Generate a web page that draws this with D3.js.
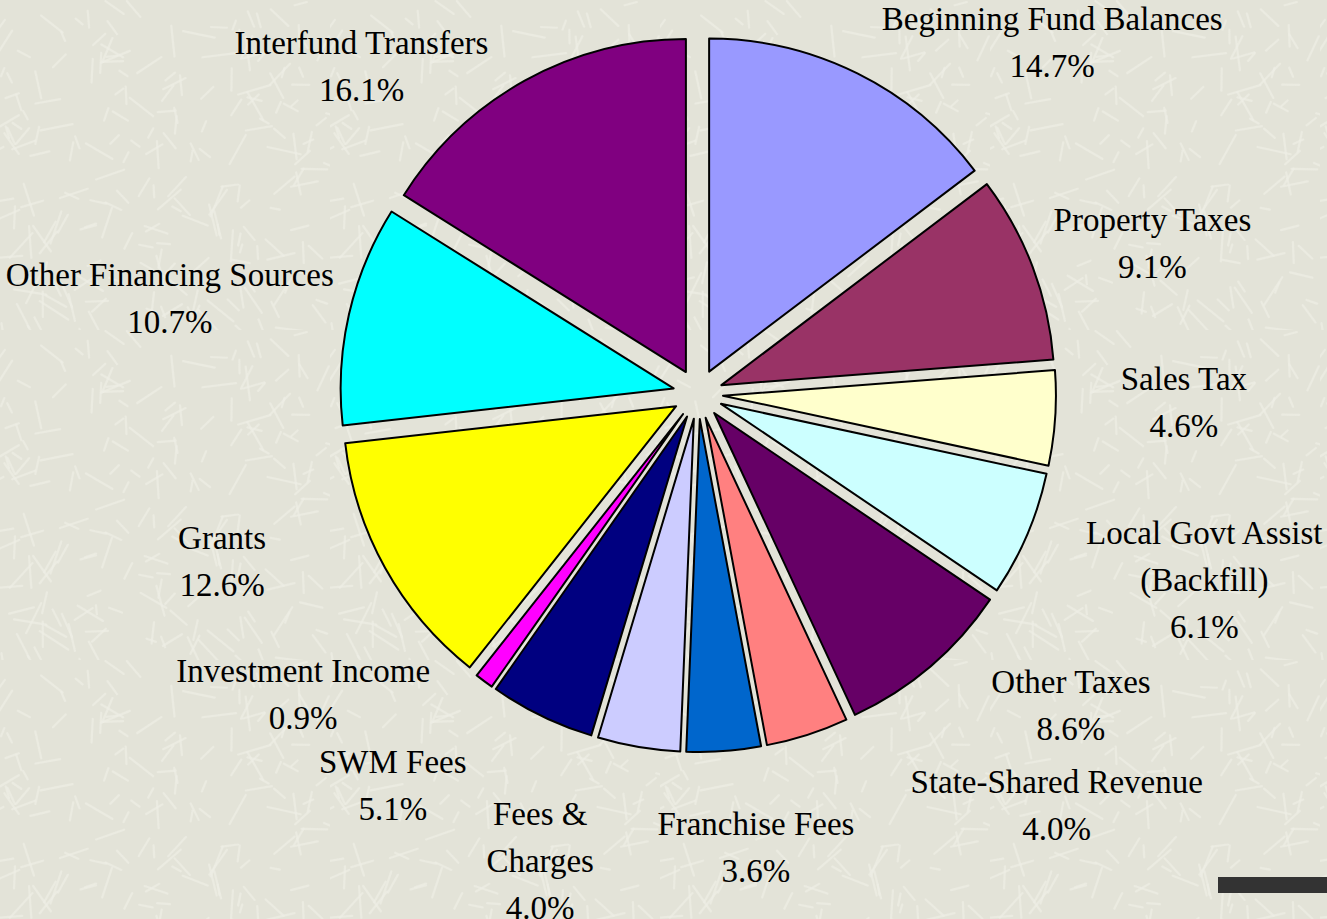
<!DOCTYPE html>
<meta charset="utf-8">
<head>
<title>Revenue Sources</title>
<style>
  body { margin: 0; background: #e4e4d9; overflow: hidden; }
  text { font-family: "Liberation Serif", "Times New Roman", serif; }
</style>
</head>
<script src="https://d3js.org/d3.v7.min.js"></script>
<div id="chart"></div>
<script>
// categories, clockwise from 12 o'clock
var categories = [
  "Beginning Fund Balances", "Property Taxes", "Sales Tax",
  "Local Govt Assist\n(Backfill)", "Other Taxes", "State-Shared Revenue",
  "Franchise Fees", "Fees &\nCharges", "SWM Fees", "Investment Income",
  "Grants", "Other Financing Sources", "Interfund Transfers"
];
var shares = [14.7, 9.1, 4.6, 6.1, 8.6, 4.0, 3.6, 4.0, 5.1, 0.9, 12.6, 10.7, 16.1];
var colors = [
  "#9999ff", "#993366", "#ffffcc", "#ccffff", "#660066", "#ff8080",
  "#0066cc", "#ccccff", "#000080", "#ff00ff", "#ffff00", "#00ffff", "#800080"
];

var W = 1327, H = 919;
var cx = 698, cy = 394, radius = 333, explode = 25;
var labelR = 470, lineH = 47;
// nudges of each label block from its polar anchor
var labelNudge = [
  [145, 69], [15, 16], [17, -23], [74, 2], [68, -46], [215, -36], [24, -15],
  [-80, 3], [-100, -31], [-114, -76], [-65, -61], [-70, 9], [-109, 84]
];

var svg = d3.select("#chart").append("svg")
  .attr("width", W).attr("height", H);

// textured backdrop (light straw streaks)
var defs = svg.append("defs");
var T = 330;
var pat = defs.append("pattern").attr("id", "tex")
  .attr("width", T).attr("height", T).attr("patternUnits", "userSpaceOnUse");
pat.append("rect").attr("width", T).attr("height", T).attr("fill", "#e3e3d8");
function h(n) { var s = Math.sin(n * 127.1 + 311.7) * 43758.5453; return s - Math.floor(s); }
for (var k = 0; k < 220; k++) {
  var x0 = h(k) * T, y0 = h(k + 1000) * T, a = h(k + 2000) * Math.PI, len = 8 + h(k + 3000) * 26;
  pat.append("line")
    .attr("x1", x0).attr("y1", y0)
    .attr("x2", x0 + Math.cos(a) * len).attr("y2", y0 + Math.sin(a) * len)
    .attr("stroke", "#eeeee5").attr("stroke-width", 2.2).attr("stroke-linecap", "round")
    .attr("opacity", 0.7);
}
svg.append("rect").attr("width", W).attr("height", H).attr("fill", "url(#tex)");

var pie = d3.pie().sort(null).value(function(d) { return d; });
var arcs = pie(shares);
var arc = d3.arc().innerRadius(0).outerRadius(radius);

var g = svg.append("g").attr("transform", "translate(" + cx + "," + cy + ")");

g.selectAll("path.slice")
  .data(arcs)
  .enter()
  .append("path")
    .attr("class", "slice")
    .attr("d", arc)
    .attr("fill", function(d, i) { return colors[i]; })
    .attr("stroke", "#000")
    .attr("stroke-width", 2)
    .attr("stroke-linejoin", "round")
    .attr("transform", function(d) {
      var m = (d.startAngle + d.endAngle) / 2;
      return "translate(" + (Math.sin(m) * explode) + "," + (-Math.cos(m) * explode) + ")";
    });

// labels
var labelArc = d3.arc().innerRadius(labelR).outerRadius(labelR);
g.selectAll("text.lbl")
  .data(arcs)
  .enter()
  .append("text")
    .attr("class", "lbl")
    .attr("text-anchor", "middle")
    .style("font-size", "33px")
    .style("fill", "#000")
    .each(function(d, i) {
      var c = labelArc.centroid(d);
      var px = c[0] + labelNudge[i][0], py = c[1] + labelNudge[i][1];
      var lines = categories[i].split("\n").concat([shares[i].toFixed(1) + "%"]);
      var top = py - (lines.length - 1) * lineH / 2 + 11;
      var t = d3.select(this);
      lines.forEach(function(s, j) {
        t.append("tspan").attr("x", px).attr("y", top + j * lineH).text(s);
      });
    });

// slide decoration bar
svg.append("rect").attr("x", 1218).attr("y", 877).attr("width", 109).attr("height", 16)
  .attr("fill", "#333333");
</script>
